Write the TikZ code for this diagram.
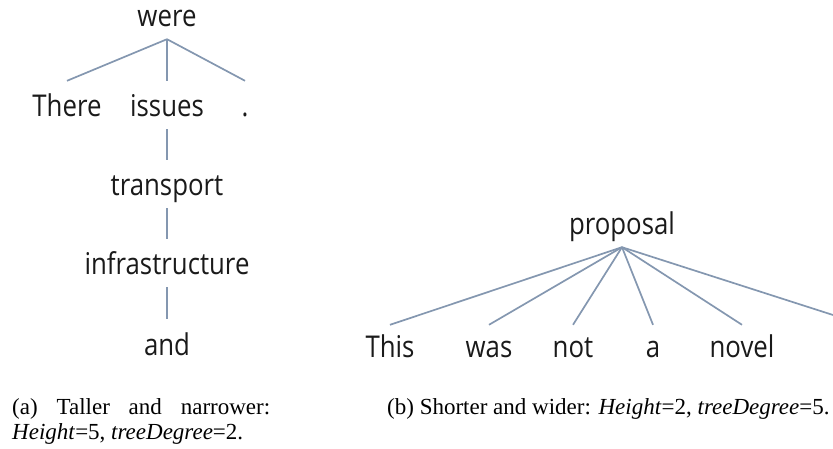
\documentclass[tikz,border=0pt]{standalone}
\usepackage{fontspec}
\newfontfamily\wordfont[FakeStretch=0.86]{Open Sans}
\newfontfamily\capfont{Liberation Serif}
\definecolor{edgecol}{HTML}{8497B0}
\definecolor{wordcol}{HTML}{1A1A1A}
\begin{document}
\begin{tikzpicture}[x=1pt,y=-1pt]
\useasboundingbox (0,0) rectangle (833,449);
\tikzset{
  word/.style={font=\wordfont\fontsize{30}{32}\selectfont, text=wordcol, inner sep=0pt, text height=36pt, text depth=12pt, anchor=base},
  leaf/.style={word, text height=32pt},
  edge/.style={draw=edgecol, line width=1.7pt},
  captext/.style={font=\capfont\fontsize{23}{25}\selectfont, inner sep=0pt, anchor=base west, align=left}
}
% (a) tall tree
\node[word] (were) at (167,27) {were};
\node[word] (there) at (67,117) {There};
\node[word] (issues) at (167,117) {issues};
\node[word] (dot) at (245,117) {.};
\node[word] (transport) at (167,196) {transport};
\node[word] (infra) at (167,275) {infrastructure};
\node[word] (and) at (167,355) {and};
\draw[edge] (were.south) -- (there.north);
\draw[edge] (were.south) -- (issues.north);
\draw[edge] (were.south) -- (dot.north);
\draw[edge] (issues.south) -- (transport.north);
\draw[edge] (transport.south) -- (infra.north);
\draw[edge] (infra.south) -- (and.north);
% (b) wide tree
\node[word] (proposal) at (622,235) {proposal};
\node[leaf] (this) at (390,357) {This};
\node[leaf] (was) at (489,357) {was};
\node[leaf] (not) at (573,357) {not};
\node[leaf] (a) at (653,357) {a};
\node[leaf] (novel) at (742,357) {novel};
\coordinate (cut) at (833,315);
\foreach \c in {this,was,not,a,novel} \draw[edge] (proposal.south) -- (\c.north);
\draw[edge] (proposal.south) -- (cut);
% captions
\node[captext] (capa) at (12,439) {\makebox[258pt][s]{(a) Taller and narrower:}\\\textit{Height}=5, \textit{treeDegree}=2.};
\node[captext] (capb) at (387,414) {(b) Shorter and wider: \textit{Height}=2, \textit{treeDegree}=5.};
\end{tikzpicture}
\end{document}
